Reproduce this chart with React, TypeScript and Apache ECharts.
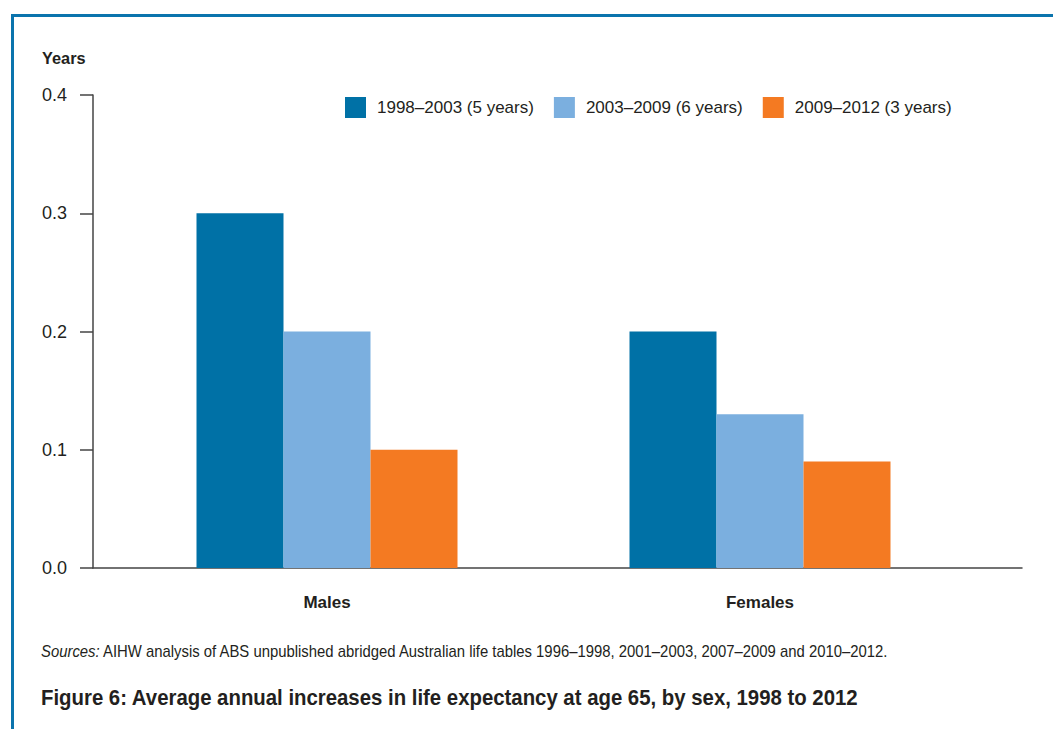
import React, { useEffect, useRef } from "react";
import * as echarts from "echarts";

const categories = ["Males", "Females"];
const seriesNames = ["1998–2003 (5 years)", "2003–2009 (6 years)", "2009–2012 (3 years)"];
const series1998 = [0.3, 0.2];
const series2003 = [0.2, 0.13];
const series2009 = [0.1, 0.09];
const yTicks = [0, 0.1, 0.2, 0.3, 0.4];
const colors = ["#0071A6", "#7BAFDF", "#F47A22"];

const FONT = "'Liberation Sans', Arial, sans-serif";

export default function App() {
  const ref = useRef<HTMLDivElement>(null);
  useEffect(() => {
    if (!ref.current) return;
    const chart = echarts.init(ref.current, null, { renderer: "svg" });
    const dataSets = [series1998, series2003, series2009];
    chart.setOption({
      animation: false,
      backgroundColor: "#ffffff",
      textStyle: { fontFamily: FONT },
      grid: [
        { left: 93, right: 31, top: 95, bottom: 161, containLabel: false },
        { left: 110.5, right: 76.5, top: 95, bottom: 161, containLabel: false },
      ],
      legend: {
        data: seriesNames,
        left: 340,
        top: 92,
        width: 700,
        itemWidth: 21,
        itemHeight: 21,
        itemGap: 20,
        icon: "rect",
        textStyle: { fontFamily: FONT, fontSize: 17, color: "#231f20", padding: [0, 0, 0, 6] },
      },
      xAxis: [
        {
          type: "value",
          gridIndex: 0,
          min: 0,
          max: 1,
          axisLine: { show: true, onZero: false, lineStyle: { color: "#444444", width: 1.5 } },
          axisTick: { show: false },
          axisLabel: { show: false },
          splitLine: { show: false },
        },
        {
          type: "category",
          gridIndex: 1,
          data: categories,
          axisLine: { show: false },
          axisTick: { show: false },
          axisLabel: {
            margin: 26,
            fontFamily: FONT,
            fontSize: 17,
            fontWeight: "bold",
            color: "#231f20",
          },
        },
      ],
      yAxis: [
        {
          type: "value",
          gridIndex: 0,
          min: yTicks[0],
          max: yTicks[yTicks.length - 1],
          interval: 0.1,
          axisLine: { show: true, lineStyle: { color: "#444444", width: 1.5 } },
          axisTick: { show: true, length: 13, lineStyle: { color: "#444444", width: 1.5 } },
          axisLabel: {
            margin: 26,
            fontFamily: FONT,
            fontSize: 18,
            color: "#231f20",
            formatter: (v: number) => v.toFixed(1),
          },
          splitLine: { show: false },
        },
        {
          type: "value",
          gridIndex: 1,
          min: yTicks[0],
          max: yTicks[yTicks.length - 1],
          show: false,
        },
      ],
      series: seriesNames.map((name, i) => ({
        name,
        type: "bar",
        xAxisIndex: 1,
        yAxisIndex: 1,
        data: dataSets[i],
        barWidth: 87,
        barGap: "0%",
        itemStyle: { color: colors[i] },
      })),
      graphic: [
        { type: "rect", left: 11, top: 14, shape: { width: 1042, height: 3 }, style: { fill: "#0B74AD" } },
        { type: "rect", left: 11, top: 14, shape: { width: 3, height: 715 }, style: { fill: "#0B74AD" } },
        {
          type: "text",
          x: 42,
          y: 58,
          scaleX: 0.96,
          style: {
            text: "Years",
            fontFamily: FONT,
            fontSize: 17,
            fontWeight: "bold",
            fill: "#231f20",
            verticalAlign: "middle",
          },
        },
        {
          type: "text",
          x: 41,
          y: 651,
          scaleX: 0.93,
          style: {
            text: "{i|Sources:} AIHW analysis of ABS unpublished abridged Australian life tables 1996–1998, 2001–2003, 2007–2009 and 2010–2012.",
            fontFamily: FONT,
            fontSize: 16,
            fill: "#231f20",
            verticalAlign: "middle",
            rich: { i: { fontStyle: "italic", fontFamily: FONT, fontSize: 16, fill: "#231f20" } },
          },
        },
        {
          type: "text",
          x: 41,
          y: 697,
          scaleX: 0.926,
          style: {
            text: "Figure 6: Average annual increases in life expectancy at age 65, by sex, 1998 to 2012",
            fontFamily: FONT,
            fontSize: 22,
            fontWeight: "bold",
            fill: "#231f20",
            verticalAlign: "middle",
          },
        },
      ],
    });
    return () => chart.dispose();
  }, []);
  return (
    <div
      ref={ref}
      style={{ position: "fixed", left: 0, top: 0, width: 1053, height: 729 }}
    />
  );
}
